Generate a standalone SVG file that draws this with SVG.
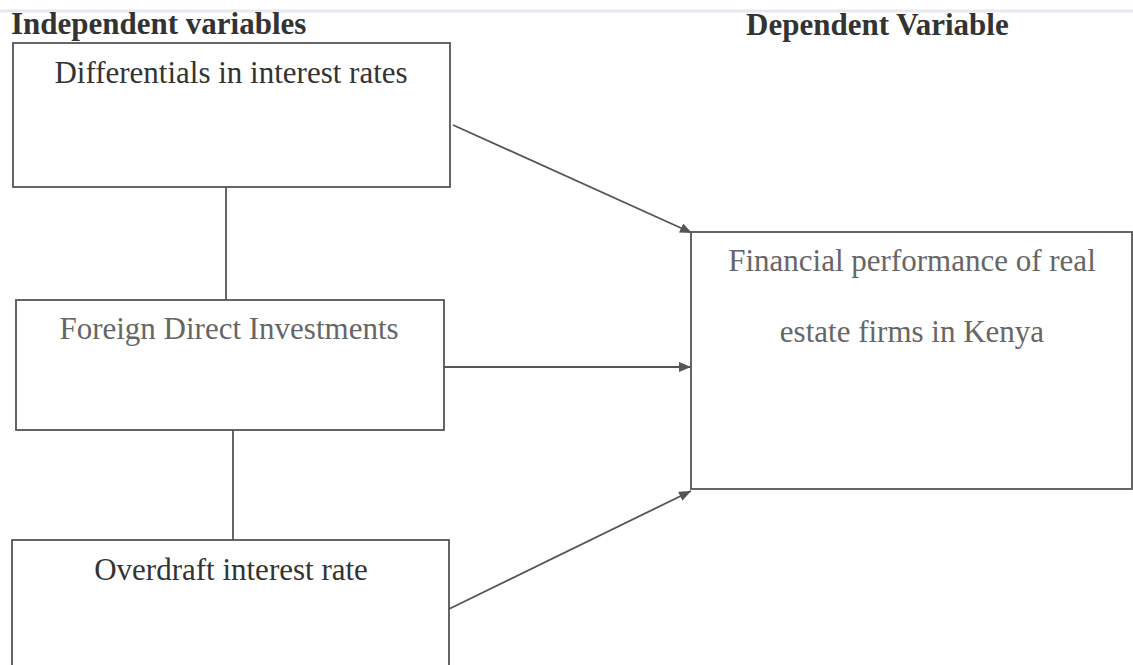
<svg xmlns="http://www.w3.org/2000/svg" width="1133" height="665" viewBox="0 0 1133 665">
  <style>
    .box { fill: #ffffff; stroke: #555555; stroke-width: 1.8; }
    .conn { fill: none; stroke: #555555; stroke-width: 1.8; }
    .head { font-family: "Liberation Serif", "Times New Roman", serif; font-weight: bold; font-size: 31px; fill: #333333; }
    .lbl { font-family: "Liberation Serif", "Times New Roman", serif; font-size: 31px; text-anchor: middle; }
    .dark { fill: #333333; }
    .grey { fill: #666666; }
  </style>
  <defs>
    <marker id="arrow" viewBox="0 0 12 10" refX="12" refY="5" markerWidth="12" markerHeight="10" markerUnits="userSpaceOnUse" orient="auto">
      <path d="M0,0 L12,5 L0,10 Z" fill="#555555"/>
    </marker>
  </defs>
  <rect x="0" y="0" width="1133" height="665" fill="#ffffff"/>
  <line x1="0" y1="11" x2="1133" y2="11" stroke="#e8e8f0" stroke-width="3"/>

  <g id="headings">
    <text class="head" x="11" y="34">Independent variables</text>
    <text class="head" x="746" y="35">Dependent Variable</text>
  </g>

  <g id="node-differentials">
    <rect class="box" x="13" y="43" width="437" height="144"/>
    <text class="lbl dark" x="231" y="83">Differentials in interest rates</text>
  </g>

  <g id="node-fdi">
    <rect class="box" x="16" y="300" width="428" height="130"/>
    <text class="lbl grey" x="229" y="339">Foreign Direct Investments</text>
  </g>

  <g id="node-overdraft">
    <rect class="box" x="12" y="540" width="437" height="140"/>
    <text class="lbl dark" x="231" y="580">Overdraft interest rate</text>
  </g>

  <g id="node-performance">
    <rect class="box" x="691" y="232" width="441" height="257"/>
    <text class="lbl grey" x="912" y="271">Financial performance of real</text>
    <text class="lbl grey" x="912" y="342">estate firms in Kenya</text>
  </g>

  <g id="connectors">
    <line class="conn" x1="226" y1="187" x2="226" y2="300"/>
    <line class="conn" x1="233" y1="430" x2="233" y2="540"/>
    <line class="conn" x1="453" y1="125" x2="692" y2="233" marker-end="url(#arrow)"/>
    <line class="conn" x1="444" y1="367" x2="691" y2="367" marker-end="url(#arrow)"/>
    <line class="conn" x1="449" y1="609" x2="691" y2="491" marker-end="url(#arrow)"/>
  </g>
</svg>
